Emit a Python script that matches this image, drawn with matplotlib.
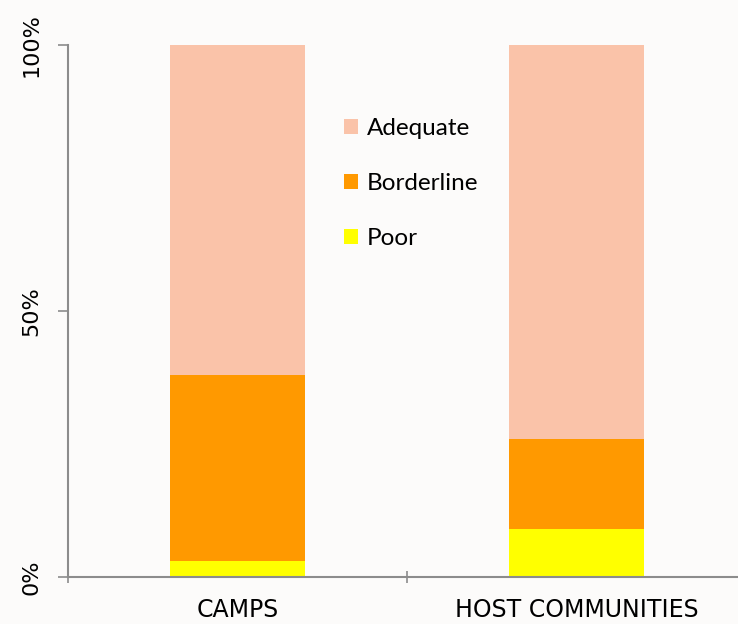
import matplotlib.pyplot as plt
from matplotlib.patches import Patch

# 数据
categories = ['CAMPS', 'HOST COMMUNITIES']
poor = [3, 9]
borderline = [35, 17]
adequate = [62, 74]

series_names = ['Poor', 'Borderline', 'Adequate']
colors = ['#ffff00', '#ff9900', '#fac3a9']

fig = plt.figure(figsize=(7.38, 6.24), dpi=100)
fig.patch.set_facecolor('#fcfbfa')
ax = fig.add_axes([68 / 738, 47 / 624, 678 / 738, 532 / 624])
ax.set_facecolor('#fcfbfa')

x = list(range(len(categories)))
bottom = [0] * len(categories)
for vals, c in zip([poor, borderline, adequate], colors):
    ax.bar(x, vals, width=0.4, bottom=bottom, color=c, linewidth=0, zorder=2)
    bottom = [b + v for b, v in zip(bottom, vals)]

ax.set_xlim(-0.5, 1.5)
ax.set_ylim(0, 100)

# 坐标轴样式
for s in ['top', 'right']:
    ax.spines[s].set_visible(False)
for s in ['left', 'bottom']:
    ax.spines[s].set_color('#8c8c8c')
    ax.spines[s].set_linewidth(1.5)

ax.set_yticks([0, 50, 100])
ax.set_yticklabels(['0%', '50%', '100%'], rotation=90, va='center',
                   fontsize=16, family='DejaVu Sans')
ax.tick_params(axis='y', length=7, width=1.2, color='#8c8c8c', pad=12)

ax.set_xticks([-0.5, 0.5, 1.5])
ax.set_xticklabels([])
ax.set_xticks(x, minor=True)
ax.set_xticklabels(categories, minor=True, fontsize=17, family='DejaVu Sans')
ax.tick_params(axis='x', which='major', length=8, width=1.2, color='#8c8c8c',
               direction='inout')
ax.tick_params(axis='x', which='minor', length=0, pad=15)

handles = [Patch(facecolor=c, edgecolor='none') for c in colors[::-1]]
leg = ax.legend(handles, series_names[::-1], loc='upper left',
                bbox_to_anchor=(322 / 738, 528 / 624), bbox_transform=fig.transFigure,
                frameon=False, handlelength=0.6, handleheight=0.6,
                handletextpad=0.35, labelspacing=1.4,
                prop={'family': 'Lato', 'size': 17.5})

fig.savefig('out.png', dpi=100, facecolor=fig.get_facecolor())
